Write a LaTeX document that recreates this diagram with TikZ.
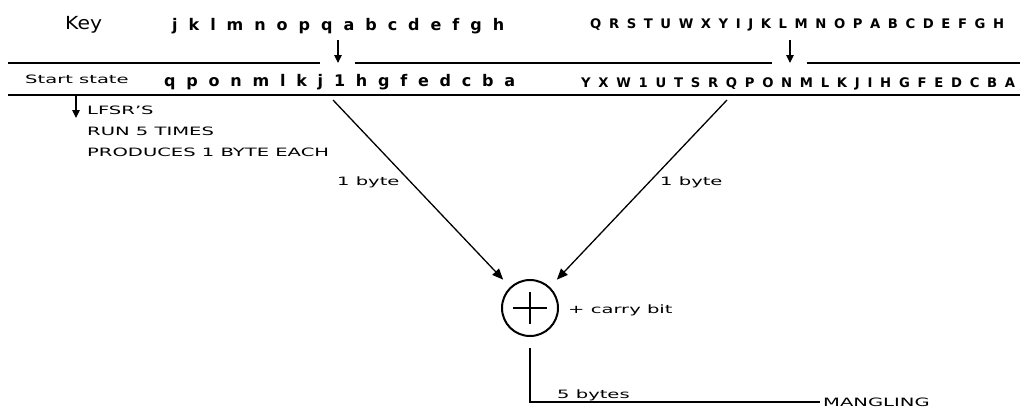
\documentclass[tikz,border=0pt]{standalone}
\usepackage{fontspec}
\setmainfont{DejaVu Sans}
\newfontfamily\labelfont[FakeStretch=1.7]{DejaVu Sans}
\newfontfamily\keyfont[FakeStretch=1.13]{DejaVu Sans}
\usetikzlibrary{arrows.meta}

% a row of register letters spread evenly over a given width
\newcommand{\regrow}[2]{\makebox[#1][s]{#2}}

\begin{document}
\begin{tikzpicture}[x=1pt,y=-1pt,
  lbl/.style={inner sep=0pt, anchor=base west,
    font=\labelfont\fontsize{11.5}{13}\selectfont},
  keytxt/.style={inner sep=0pt, anchor=base west,
    font=\keyfont\fontsize{18}{20}\selectfont},
  lowtxt/.style={inner sep=0pt, anchor=base west,
    font=\bfseries\fontsize{16}{18}\selectfont},
  uptxt/.style={inner sep=0pt, anchor=base west,
    font=\bfseries\fontsize{13.2}{15}\selectfont},
  rule/.style={line width=1.4pt},
  drop/.style={line width=1.2pt, -{Triangle[length=8pt,width=7.5pt]}},
  feed/.style={line width=1.3pt, -{Triangle[length=11pt,width=9pt]}, shorten >=10pt},
  xorbox/.style={circle, draw, line width=2pt, minimum size=56pt, inner sep=0pt},
  outline/.style={line width=2.2pt, shorten <=11pt}
]
\useasboundingbox[fill=white] (0,0) rectangle (1020,407);

% key rows
\node[keytxt] (key) at (65,29) {Key};
\node[lowtxt] (keylow) at (172,30) {\regrow{332pt}{j k l m n o p q a b c d e f g h}};
\node[uptxt]  (keyup)  at (590,28) {\regrow{414pt}{Q R S T U W X Y I J K L M N O P A B C D E F G H}};

% register frame
\coordinate (tl1) at (8,63);    \coordinate (tl2) at (320,63);
\coordinate (tl3) at (355,63);  \coordinate (tl4) at (772,63);
\coordinate (tl5) at (807,63);  \coordinate (tl6) at (1020,63);
\coordinate (bl1) at (8,95);    \coordinate (bl2) at (1020,95);
\draw[rule] (tl1) -- (tl2) (tl3) -- (tl4) (tl5) -- (tl6);
\draw[rule] (bl1) -- (bl2);

% start state rows
\node[lbl] (start) at (25,83) {Start state};
\node[lowtxt] (statelow) at (164,86) {\regrow{351pt}{q p o n m l k j 1 h g f e d c b a}};
\node[uptxt]  (stateup)  at (581,87) {\regrow{434pt}{Y X W 1 U T S R Q P O N M L K J I H G F E D C B A}};

% key bits dropped into the state
\coordinate (ka1) at (338,40); \coordinate (kb1) at (338,63);
\coordinate (ka2) at (790,40); \coordinate (kb2) at (790,63);
\draw[drop] (ka1) -- (kb1);
\draw[drop] (ka2) -- (kb2);

% LFSR notes
\coordinate (ra) at (76,95); \coordinate (rb) at (76,118);
\draw[drop] (ra) -- (rb);
\node[lbl] (n1) at (87,114) {LFSR’S};
\node[lbl] (n2) at (87,135) {RUN 5 TIMES};
\node[lbl] (n3) at (87,156) {PRODUCES 1 BYTE EACH};

% adder
\node[xorbox] (xor) at (530,308) {};
\draw[line width=2pt] ([xshift=-17pt]xor.center) -- ([xshift=17pt]xor.center)
                      ([yshift=-16pt]xor.center) -- ([yshift=16pt]xor.center);
\node[lbl] (carry) at (568,313) {+ carry bit};

\coordinate (ls) at (333,100);
\coordinate (rs) at (727,100);
\draw[feed] (ls) -- (xor);
\draw[feed] (rs) -- (xor);
\node[lbl] (b1) at (337,185) {1 byte};
\node[lbl] (b2) at (660,185) {1 byte};

% output
\node[lbl, anchor=west, inner sep=3pt] (mg) at (820,402) {MANGLING};
\draw[outline] (xor.south) |- (mg.west);
\node[lbl] (b5) at (557,398) {5 bytes};
\end{tikzpicture}
\end{document}
